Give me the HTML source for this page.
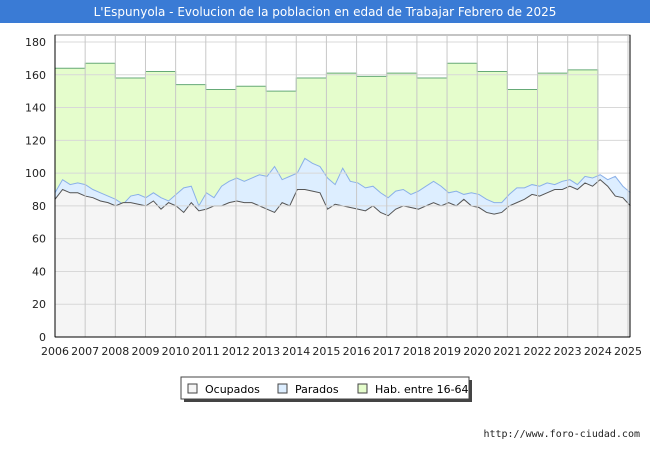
<!DOCTYPE html>
<html><head><meta charset="utf-8"><style>
body{margin:0;width:650px;height:450px;background:#fff;font-family:"DejaVu Sans","Liberation Sans",sans-serif;overflow:hidden}
</style></head><body>
<svg width="650" height="450" xmlns="http://www.w3.org/2000/svg" font-family="DejaVu Sans, Liberation Sans, sans-serif">
<rect x="0" y="0" width="650" height="450" fill="#fff"/>
<rect x="0" y="0" width="650" height="23" fill="#3a7bd5"/>
<text x="325" y="16" text-anchor="middle" font-size="12" fill="#fff">L'Espunyola - Evolucion de la poblacion en edad de Trabajar Febrero de 2025</text>
<g id="plot"></g>
<g>
<rect x="184" y="380" width="288" height="22" fill="#444"/>
<rect x="181" y="377" width="288" height="22" fill="#fff" stroke="#444"/>
<rect x="188" y="384" width="9" height="9" fill="#f5f5f5" stroke="#444"/>
<text x="205" y="393" font-size="11">Ocupados</text>
<rect x="278" y="384" width="9" height="9" fill="#ddeeff" stroke="#444"/>
<text x="295" y="393" font-size="11">Parados</text>
<rect x="358" y="384" width="9" height="9" fill="#e5fdcc" stroke="#444"/>
<text x="375" y="393" font-size="11">Hab. entre 16-64</text>
</g>
<text x="640" y="437" text-anchor="end" font-size="10" fill="#222" font-family="DejaVu Sans Mono, monospace">http://www.foro-ciudad.com</text>
</svg>
<script>
const years=[2006,2007,2008,2009,2010,2011,2012,2013,2014,2015,2016,2017,2018,2019,2020,2021,2022,2023,2024,2025];
const habValues=[164,167,158,162,154,151,153,150,158,161,159,161,158,167,162,151,161,163];
const habLast=[146,114];
const paradosValues=[88,96,93,94,93,90,88,86,84,81,86,87,85,88,85,83,87,91,92,80,88,85,92,95,97,95,97,99,98,104,96,98,100,109,106,104,97,93,103,95,94,91,92,88,85,89,90,87,89,92,95,92,88,89,87,88,87,84,82,82,87,91,91,93,92,94,93,95,96,93,98,97,99,96,98,92,88];
const ocupadosValues=[84,90,88,88,86,85,83,82,80,82,82,81,80,83,78,82,80,76,82,77,78,80,80,82,83,82,82,80,78,76,82,80,90,90,89,88,78,81,80,79,78,77,80,76,74,78,80,79,78,80,82,80,82,80,84,80,79,76,75,76,80,82,84,87,86,88,90,90,92,90,94,92,96,92,86,85,80];
const yTicks=[0,20,40,60,80,100,120,140,160,180];
const X0=55,X1=628,Y0=337,Y1=42;
const xs=t=>X0+(t-2006)/(2025-2006)*(X1-X0);
const ys=v=>Y0-v/180*(Y0-Y1);
const NS='http://www.w3.org/2000/svg';
const plot=document.getElementById('plot');
function mk(tag,attrs){const e=document.createElementNS(NS,tag);for(const k in attrs)e.setAttribute(k,attrs[k]);plot.appendChild(e);return e;}
let r=mk('rect',{x:X0,y:35,width:X1-X0+2,height:Y0-35,fill:'#fff',stroke:'#888'});


let d=`M${xs(2006)},${ys(0)}`;
habValues.forEach((v,i)=>{d+=` L${xs(2006+i)},${ys(v)} L${xs(2007+i)},${ys(v)}`;});
const tEnd=2006+habValues.length;
d+=` L${xs(tEnd)},${ys(habLast[0])} L${xs(tEnd)+0.5},${ys(habLast[1])} L${xs(tEnd)+0.5},${ys(0)} Z`;
let ha=mk('path',{d:d,fill:'#e5fdcc',stroke:'none'});


let dl=`M${xs(2006)},${ys(habValues[0])}`;
habValues.forEach((v,i)=>{dl+=` L${xs(2006+i)},${ys(v)} L${xs(2007+i)},${ys(v)}`;});
dl+=` L${xs(tEnd)},${ys(habLast[0])} L${xs(tEnd)},${ys(habLast[1])}`;
function series(vals,fill,stroke,name){
  const n=vals.length;const tx=i=>2006+i*(19.08/(n-1));
  let p=`M${xs(2006)},${ys(0)}`;vals.forEach((v,i)=>p+=` L${xs(tx(i))},${ys(v)}`);p+=` L${xs(tx(n-1))},${ys(0)} Z`;
  let a=mk('path',{d:p,fill:fill});
  
  
  let l='';vals.forEach((v,i)=>l+=(i?' L':'M')+xs(tx(i))+','+ys(v));
  let ln=mk('path',{d:l,fill:'none',stroke:stroke,'stroke-width':1});
  
  
}
series(paradosValues,'#ddeeff','#8ab0e8','parados');
series(ocupadosValues,'#f5f5f5','#555','ocupados');
let hl=mk('path',{d:dl,fill:'none',stroke:'#66aa77','stroke-width':1});


yTicks.forEach(v=>{
  let g=mk('line',{x1:X0,x2:X1+2,y1:ys(v),y2:ys(v),stroke:'#d8d8d8'});
  
  
  let t=mk('text',{x:46,y:ys(v)+4,'text-anchor':'end','font-size':11,fill:'#222'});t.textContent=v;
  
  
});
years.forEach(yr=>{
  let g=mk('line',{x1:xs(yr),x2:xs(yr),y1:35,y2:Y0,stroke:'#c8c8c8'});
  
  
  let t=mk('text',{x:xs(yr),y:355,'text-anchor':'middle','font-size':11,fill:'#222'});t.textContent=yr;
  
  
});
let ax=mk('line',{x1:X0,x2:X0,y1:35,y2:Y0,stroke:'#000'});


let ax2=mk('line',{x1:X0,x2:X1+2,y1:Y0,y2:Y0,stroke:'#000'});


let ax3=mk('line',{x1:X1+2,x2:X1+2,y1:35,y2:Y0,stroke:'#000'});


</script>
</body></html>
